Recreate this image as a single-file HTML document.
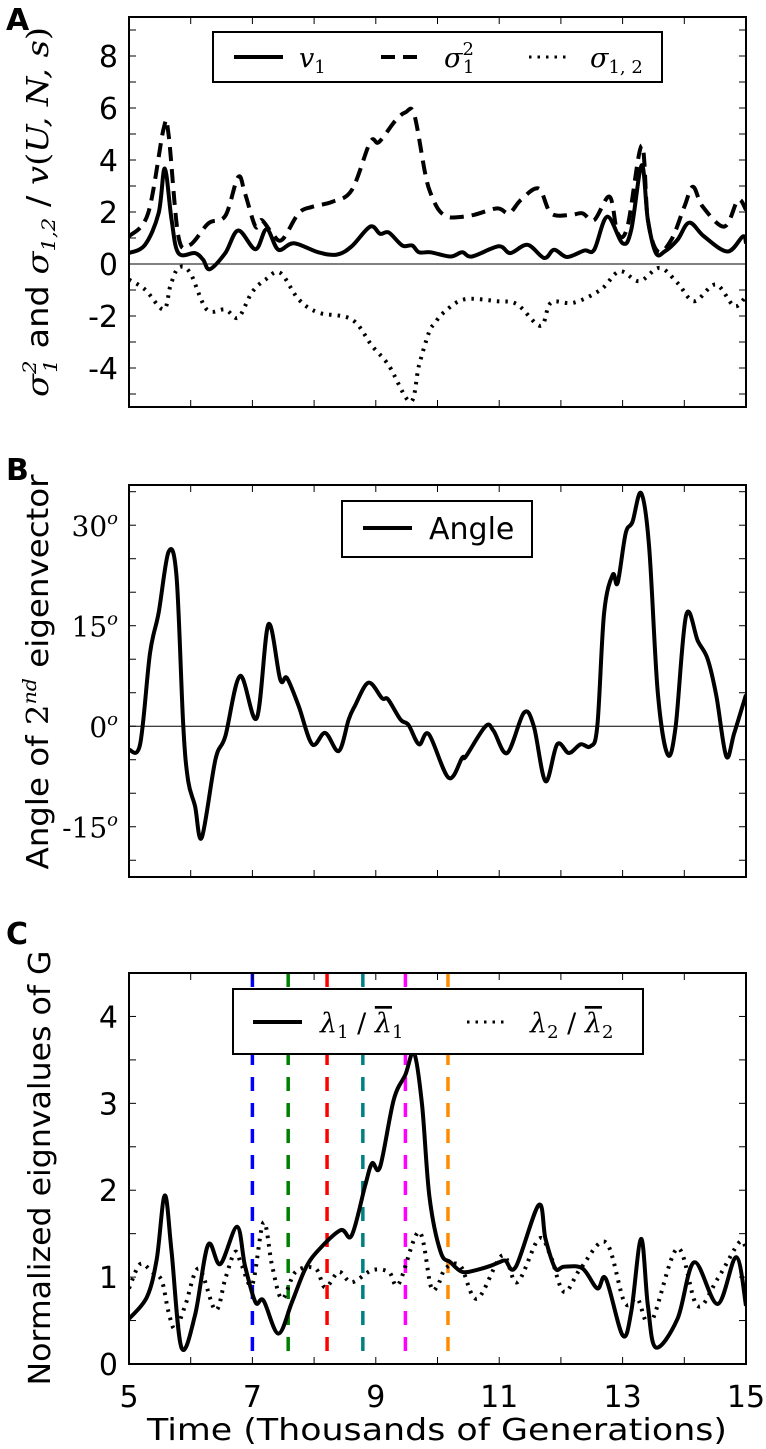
<!DOCTYPE html>
<html><head><meta charset="utf-8"><style>
html,body{margin:0;padding:0;background:#fff}
svg{display:block}
.tk{font-family:"DejaVu Sans","Liberation Sans",sans-serif;font-size:30px;fill:#000}
.mt{font-family:"DejaVu Serif","Liberation Serif",serif;font-style:italic;fill:#000}
</style></head><body>
<svg id="fig" width="766" height="1449" viewBox="0 0 766 1449" xmlns="http://www.w3.org/2000/svg">
<text x="6" y="30" font-family="DejaVu Sans,Liberation Sans,sans-serif" font-weight="bold" font-size="30">A</text>
<text x="6" y="480" font-family="DejaVu Sans,Liberation Sans,sans-serif" font-weight="bold" font-size="30">B</text>
<text x="6" y="944" font-family="DejaVu Sans,Liberation Sans,sans-serif" font-weight="bold" font-size="30">C</text>

<g transform="translate(48,212) rotate(-90)">
<text text-anchor="middle" font-size="30" font-family="DejaVu Sans,Liberation Sans,sans-serif" textLength="370" lengthAdjust="spacingAndGlyphs"><tspan class="mt">σ</tspan><tspan class="mt" font-size="19" dy="-12">2</tspan><tspan class="mt" font-size="19" dx="-11" dy="21">1</tspan><tspan dy="-9"> and </tspan><tspan class="mt">σ</tspan><tspan class="mt" font-size="19" dy="7">1,2</tspan><tspan dy="-7"> / </tspan><tspan class="mt">v</tspan><tspan font-family="DejaVu Serif,serif">(</tspan><tspan class="mt">U, N, s</tspan><tspan font-family="DejaVu Serif,serif">)</tspan></text>
</g>
<g transform="translate(48,672) rotate(-90)">
<text text-anchor="middle" font-size="30" font-family="DejaVu Sans,Liberation Sans,sans-serif" textLength="395" lengthAdjust="spacingAndGlyphs">Angle of <tspan font-family="DejaVu Serif,serif">2</tspan><tspan class="mt" font-size="19" dy="-12">nd</tspan><tspan dy="12"> eigenvector</tspan></text>
</g>
<text transform="translate(50,1168) rotate(-90)" text-anchor="middle" font-size="30" font-family="DejaVu Sans,Liberation Sans,sans-serif" textLength="435" lengthAdjust="spacingAndGlyphs">Normalized eignvalues of G</text>
<text x="437" y="1440" text-anchor="middle" font-size="30" font-family="DejaVu Sans,Liberation Sans,sans-serif" textLength="580" lengthAdjust="spacingAndGlyphs">Time (Thousands of Generations)</text>
</svg>
<script>
// ---------- data ----------
const aV1T=[5.0,5.26,5.48,5.58,5.69,5.8,6.07,6.2,6.31,6.56,6.77,7.05,7.23,7.42,7.67,8.07,8.37,8.61,8.91,9.07,9.21,9.43,9.59,9.7,9.89,10.21,10.4,10.56,10.99,11.18,11.46,11.73,11.89,12.1,12.38,12.54,12.75,13.0,13.14,13.31,13.41,13.54,13.68,13.89,14.08,14.32,14.7,14.95,15.0];
const aV1=[0.42,0.74,1.95,3.67,1.7,0.42,0.42,0.17,-0.2,0.42,1.29,0.57,1.34,0.55,0.8,0.45,0.36,0.68,1.44,1.16,1.21,0.71,0.71,0.45,0.45,0.29,0.45,0.29,0.68,0.42,0.74,0.23,0.55,0.27,0.52,0.55,1.82,0.8,1.31,3.8,1.69,0.42,0.48,0.93,1.59,1.06,0.48,1.06,0.8];
const aS1T=[5.0,5.31,5.56,5.64,5.8,5.99,6.29,6.56,6.77,6.88,7.05,7.15,7.32,7.48,7.75,7.97,8.29,8.61,8.91,9.05,9.32,9.48,9.62,9.8,9.89,10.02,10.16,10.32,10.59,10.97,11.16,11.35,11.64,11.84,12.16,12.35,12.54,12.79,12.92,13.08,13.31,13.41,13.57,13.79,14.0,14.14,14.3,14.65,14.87,15.0];
const aS1=[1.06,1.95,5.2,5.0,1.06,0.74,1.57,1.85,3.35,2.71,1.44,1.69,1.18,0.93,1.95,2.2,2.39,2.84,4.69,4.69,5.52,5.83,5.77,3.48,2.71,2.08,1.82,1.8,1.89,2.14,1.95,2.46,2.9,1.95,1.89,1.95,1.69,2.59,1.18,1.44,4.56,1.69,0.48,0.93,2.2,2.97,2.2,1.44,2.46,2.08];
const aS12T=[5.0,5.26,5.56,5.67,5.8,5.99,6.26,6.56,6.77,6.99,7.21,7.45,7.75,8.07,8.61,8.94,9.21,9.56,9.7,9.86,9.95,10.1,10.43,10.97,11.29,11.67,11.84,12.21,12.65,12.95,13.27,13.6,13.89,14.16,14.51,14.81,15.0];
const aS12=[-0.6,-0.98,-1.75,-0.85,-0.15,-0.34,-1.75,-1.75,-2.06,-1.1,-0.6,-0.34,-1.36,-1.87,-2.13,-3.15,-3.9,-5.3,-3.9,-2.64,-2.3,-1.87,-1.36,-1.43,-1.55,-2.38,-1.49,-1.49,-0.98,-0.28,-0.66,-0.15,-0.73,-1.43,-0.79,-1.62,-1.24];
const bT=[5.0,5.18,5.34,5.48,5.64,5.77,5.88,5.96,6.07,6.18,6.4,6.56,6.8,7.07,7.26,7.45,7.56,7.75,7.97,8.18,8.4,8.56,8.66,8.88,9.1,9.2,9.4,9.53,9.7,9.86,10.18,10.4,10.46,10.78,10.91,11.13,11.4,11.56,11.75,11.94,12.13,12.32,12.48,12.59,12.7,12.84,12.92,13.05,13.16,13.3,13.43,13.57,13.73,13.86,14.03,14.22,14.38,14.52,14.68,14.81,15.0];
const bAngle=[-3.5,-2.7,10.9,16.9,26,22.4,0,-8.2,-11.9,-16.6,-5,-1.5,7.5,1.2,15.2,7,7.2,3,-2.7,-1,-3.7,1,3,6.5,4.2,4,1,0.2,-2.7,-1.2,-7.7,-4.7,-4.5,0,-0.7,-4,2,0,-8.2,-2.7,-4,-2.7,-3,0,16.9,22.6,21.4,28.8,30.5,34.8,26.8,5,-4.2,0,16.6,12.7,10,4.5,-4.5,-1,4.7];
const cL1T=[5.0,5.29,5.45,5.58,5.69,5.85,6.07,6.28,6.48,6.75,6.88,7.05,7.18,7.42,7.64,7.86,8.07,8.43,8.61,8.83,8.94,9.07,9.29,9.48,9.62,9.75,9.87,10.05,10.21,10.4,10.62,10.86,11.0,11.1,11.27,11.64,11.75,11.91,12.05,12.35,12.59,12.73,13.0,13.14,13.3,13.41,13.54,13.89,14.16,14.54,14.84,15.0];
const cL1=[0.52,0.77,1.21,1.94,1.29,0.19,0.56,1.37,1.15,1.58,1.13,0.71,0.73,0.35,0.71,1.1,1.31,1.54,1.48,2.06,2.31,2.27,3.04,3.33,3.58,2.98,1.92,1.29,1.17,1.06,1.08,1.13,1.17,1.19,1.12,1.83,1.44,1.1,1.12,1.1,0.87,0.98,0.33,0.6,1.44,0.67,0.19,0.52,1.17,0.69,1.23,0.67];
const cL2T=[5.0,5.18,5.37,5.53,5.64,5.75,5.91,6.13,6.4,6.56,6.72,6.83,7.0,7.18,7.32,7.48,7.7,8.02,8.18,8.4,8.61,8.94,9.21,9.37,9.7,9.89,10.0,10.13,10.37,10.64,11.05,11.29,11.64,11.83,12.05,12.32,12.73,13.03,13.24,13.46,13.89,14.21,14.54,14.89,15.0];
const cL2=[0.87,1.15,1.06,0.96,0.6,0.4,0.67,1.1,0.62,0.98,1.29,1.13,0.92,1.63,1.13,0.75,1.06,1.1,0.88,1.06,0.94,1.08,1.06,0.92,1.52,0.9,0.9,1.1,1.13,0.75,1.25,0.94,1.44,1.25,0.83,1.1,1.4,0.71,0.75,0.48,1.33,0.67,0.98,1.4,1.33];
const cMarkers=[7.0,7.58,8.21,8.79,9.48,10.17];
const cMarkerColors=['#0000ff','#008000','#ff0000','#008080','#ff00ff','#ff8c00'];
const xTicks=[5,7,9,11,13,15];
const aTicks=[8,6,4,2,0,-2,-4];
const bTicks=[30,15,0,-15];
const cTicks=[4,3,2,1,0];

// ---------- layout ----------
const NS='http://www.w3.org/2000/svg';
const svg=document.getElementById('fig');
const X0=129,X1=746;
const xs=t=>X0+(t-5)/10*(X1-X0);
function mk(tag,attrs,parent){const e=document.createElementNS(NS,tag);for(const k in attrs)e.setAttribute(k,attrs[k]);(parent||svg).appendChild(e);return e;}
function smooth(T,V,ys){
  const p=T.map((t,i)=>[xs(t),ys(V[i])]);
  let d='M'+p[0][0].toFixed(1)+','+p[0][1].toFixed(1);
  for(let i=0;i<p.length-1;i++){
    const p0=p[Math.max(0,i-1)],p1=p[i],p2=p[i+1],p3=p[Math.min(p.length-1,i+2)];
    const c1=[p1[0]+(p2[0]-p0[0])/6,p1[1]+(p2[1]-p0[1])/6];
    const c2=[p2[0]-(p3[0]-p1[0])/6,p2[1]-(p3[1]-p1[1])/6];
    d+='C'+c1[0].toFixed(1)+','+c1[1].toFixed(1)+' '+c2[0].toFixed(1)+','+c2[1].toFixed(1)+' '+p2[0].toFixed(1)+','+p2[1].toFixed(1);
  }
  return d;
}
function panel(name,top,bot,vmin,vmax,minorStep){
  const ys=v=>bot-(v-vmin)/(vmax-vmin)*(bot-top);
  const g=mk('g',{});
  
  
  const clip=mk('clipPath',{id:name+'-clip'},g);
  mk('rect',{x:X0,y:top,width:X1-X0,height:bot-top},clip);
  const plot=mk('g',{'clip-path':'url(#'+name+'-clip)'},g);
  for(let t=5;t<=15;t++){
    const x=xs(t);
    const tb=mk('line',{x1:x,x2:x,y1:bot,y2:bot-7,stroke:'#000','stroke-width':1},g);
    
    
    mk('line',{x1:x,x2:x,y1:top,y2:top+7,stroke:'#000','stroke-width':1},g);
  }
  for(let v=Math.ceil(vmin/minorStep)*minorStep;v<=vmax;v+=minorStep){
    const y=ys(v);
    mk('line',{x1:X0,x2:X0+7,y1:y,y2:y,stroke:'#000','stroke-width':1},g);
    mk('line',{x1:X1,x2:X1-7,y1:y,y2:y,stroke:'#000','stroke-width':1},g);
  }
  const z=mk('line',{x1:X0,x2:X1,y1:ys(0),y2:ys(0),stroke:'#000','stroke-width':1},plot);
  
  
  return {g,plot,ys,top,bot};
}
function frame(P){
  const f=mk('rect',{x:X0,y:P.top,width:X1-X0,height:P.bot-P.top,fill:'none',stroke:'#000','stroke-width':2},P.g);
  
  
}
function series(P,T,V,dash,name){
  const a={d:smooth(T,V,P.ys),fill:'none',stroke:'#000','stroke-width':4,'stroke-linejoin':'round'};
  if(dash)a['stroke-dasharray']=dash;
  const e=mk('path',a,P.plot);
  
  
}
function ylabel(P,v,txt,serif){
  const t=mk('text',{x:118,y:P.ys(v)+11,'text-anchor':'end',class:serif?'':'tk'},P.g);
  
  
  if(serif){
    t.setAttribute('font-family','DejaVu Serif,Liberation Serif,serif');t.setAttribute('font-size','28');
    const a=mk('tspan',{},t);a.textContent=txt;
    const b=mk('tspan',{dy:-12,'font-size':18,'font-style':'italic'},t);b.textContent='o';
  } else t.textContent=txt;
}

// Panel A
const A=panel('panel-a',17,407,-5.5,9.5,1);
series(A,aS12T,aS12,'2.5 6','sigma12-line');
series(A,aS1T,aS1,'14 8','sigma1sq-line');
series(A,aV1T,aV1,null,'v1-line');
aTicks.forEach(v=>ylabel(A,v,String(v)));
frame(A);
const la=mk('g',{},A.g);


mk('rect',{x:213,y:32,width:449,height:50,fill:'#fff',stroke:'#000','stroke-width':2},la);
mk('line',{x1:234,x2:283,y1:57,y2:57,stroke:'#000','stroke-width':4},la);
mk('line',{x1:381,x2:421,y1:57,y2:57,stroke:'#000','stroke-width':4,'stroke-dasharray':'14 8'},la);
mk('line',{x1:529,x2:568,y1:57,y2:57,stroke:'#000','stroke-width':3,'stroke-dasharray':'2.5 6'},la);
function mtext(parent,x,y,parts){const t=mk('text',{x:x,y:y,class:'mt','font-size':27},parent);parts.forEach(p=>{const s=mk('tspan',p[1]||{},t);s.textContent=p[0];});return t;}
mtext(la,299,67,[['v'],['1',{'font-size':18,'font-style':'normal',dy:6}]]);
mtext(la,444,67,[['σ'],['2',{'font-size':18,'font-style':'normal',dy:-12}],['1',{'font-size':18,'font-style':'normal',dx:-11,dy:18}]]);
mtext(la,590,67,[['σ'],['1, 2',{'font-size':18,'font-style':'normal',dy:6}]]);

// Panel B
const B=panel('panel-b',485,877,-22.5,36,5);
series(B,bT,bAngle,null,'angle-line');
bTicks.forEach(v=>ylabel(B,v,String(v),true));
frame(B);
const lb=mk('g',{},B.g);


mk('rect',{x:342,y:501,width:190,height:56,fill:'#fff',stroke:'#000','stroke-width':2},lb);
mk('line',{x1:363,x2:412,y1:528,y2:528,stroke:'#000','stroke-width':4},lb);
const at=mk('text',{x:429,y:539,class:'tk','font-size':29},lb);at.textContent='Angle';

// Panel C
const C=panel('panel-c',973,1364,0,4.5,0.5);
cMarkers.forEach((t,i)=>{
  const l=mk('line',{x1:xs(t),x2:xs(t),y1:C.top,y2:C.bot,stroke:cMarkerColors[i],'stroke-width':3.5,'stroke-dasharray':'14 12'},C.plot);
  
  
});
series(C,cL2T,cL2,'2.5 6','lambda2-line');
series(C,cL1T,cL1,null,'lambda1-line');
cTicks.forEach(v=>ylabel(C,v,String(v)));
frame(C);
xTicks.forEach(t=>{
  const e=mk('text',{x:xs(t),y:1407,'text-anchor':'middle',class:'tk','font-size':31});
  
  
  e.textContent=String(t);
});
const lc=mk('g',{},C.g);


mk('rect',{x:233,y:989,width:410,height:65,fill:'#fff',stroke:'#000','stroke-width':2},lc);
mk('line',{x1:253,x2:302,y1:1022,y2:1022,stroke:'#000','stroke-width':4},lc);
mk('line',{x1:467,x2:506,y1:1022,y2:1022,stroke:'#000','stroke-width':3,'stroke-dasharray':'2.5 6'},lc);
mtext(lc,320,1032,[['λ'],['1',{'font-size':18,'font-style':'normal',dy:6}],[' / ',{dy:-6,'font-style':'normal','font-family':'DejaVu Sans,sans-serif'}],['λ',{'text-decoration':'overline'}],['1',{'font-size':18,'font-style':'normal',dy:6}]]);
mtext(lc,530,1032,[['λ'],['2',{'font-size':18,'font-style':'normal',dy:6}],[' / ',{dy:-6,'font-style':'normal','font-family':'DejaVu Sans,sans-serif'}],['λ',{'text-decoration':'overline'}],['2',{'font-size':18,'font-style':'normal',dy:6}]]);
</script>
</body></html>
